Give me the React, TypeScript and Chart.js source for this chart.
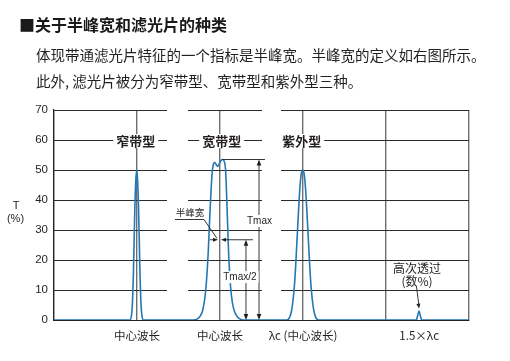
import React, { useEffect, useRef } from 'react';
import { Chart, registerables } from 'chart.js';

Chart.register(...registerables);

// ---- data (x in grid units: 1 unit = one vertical grid interval) ----
const Y_TICKS = [0, 10, 20, 30, 40, 50, 60, 70];
const X_GRID = [0, 1, 2, 3, 4, 5];

const NARROW_X = [0.9157, 0.9337, 0.9458, 0.9554, 0.9651, 0.9747, 0.9855, 0.9964, 1.0072, 1.0181, 1.0277, 1.0373, 1.047, 1.059, 1.0771];
const NARROW_T = [0, 1.5, 6, 14, 26, 38, 46.5, 50, 46.5, 38, 26, 14, 6, 1.5, 0];

const BROAD_X = [1.6747, 1.7229, 1.759, 1.7892, 1.8133, 1.8313, 1.847, 1.859, 1.8711, 1.8831, 1.894, 1.906, 1.9193, 1.9337, 1.9518, 1.9723, 1.994, 2.0145, 2.0337, 2.053, 2.0675, 2.0819, 2.094, 2.1072, 2.1277, 2.1482, 2.1747, 2.2108, 2.253, 2.3133];
const BROAD_T = [0, 0.3, 1.2, 3, 6.5, 11, 17, 23, 31, 38, 44, 49.3, 51.8, 52.6, 51.9, 51.2, 52.2, 53.3, 53.5, 52.7, 50, 40, 30, 20, 11, 6, 2.8, 1, 0.2, 0];

const UV_X = [2.8012, 2.8373, 2.8614, 2.8795, 2.8952, 2.9096, 2.9229, 2.9361, 2.9494, 2.9639, 2.9795, 2.9964, 3.0133, 3.0289, 3.0434, 3.0566, 3.0699, 3.0831, 3.0976, 3.1133, 3.1313, 3.1554, 3.1928];
const UV_T = [0, 0.8, 3, 6.5, 11, 17, 24, 31, 38, 44.5, 48.8, 50, 48.8, 44.5, 38, 31, 24, 17, 11, 6.5, 3, 0.8, 0];

const HARM_X = [4.3651, 4.3819, 4.3976, 4.4133, 4.4301];
const HARM_T = [0, 1.5, 3, 1.5, 0];

const TYPE_LABELS = ['窄带型', '宽带型', '紫外型'];
const X_LABELS = ['中心波长', '中心波长', 'λc (中心波长)', '1.5×λc'];

// ---- layout constants ----
const TYPE_POS = [0.985, 2.02, 2.985];
const X_LABEL_POS = [1, 2, 3, 4.4];
const GAPS = [[1.3614, 1.6145], [2.506, 2.735]];
const TMAX = 53.5;

const FONT_CJK = "'Noto Sans CJK SC', sans-serif";
const FONT_LAT = "'Liberation Sans', Arial, sans-serif";
const INK = '#231f20';
const BLUE = '#2477b4';

function head(ctx: CanvasRenderingContext2D, x: number, y: number, dx: number, dy: number, len = 6, w = 2.3) {
  ctx.beginPath();
  ctx.moveTo(x, y);
  ctx.lineTo(x - dx * len - dy * w, y - dy * len + dx * w);
  ctx.lineTo(x - dx * len + dy * w, y - dy * len - dx * w);
  ctx.closePath();
  ctx.fill();
}

function labelBg(ctx: CanvasRenderingContext2D, text: string, cx: number, cy: number, font: string, padX = 2, h = 12) {
  ctx.font = font;
  const w = ctx.measureText(text).width;
  ctx.fillStyle = '#fff';
  ctx.fillRect(cx - w / 2 - padX, cy - h / 2, w + padX * 2, h);
  ctx.fillStyle = INK;
  ctx.textAlign = 'center';
  ctx.textBaseline = 'middle';
  ctx.fillText(text, cx, cy);
}

const decor = {
  id: 'decor',
  beforeDatasetsDraw(chart: any) {
    const { ctx, chartArea: ca, scales } = chart;
    const x = scales.x, y = scales.y;
    ctx.save();
    ctx.fillStyle = '#fff';
    for (const [a, b] of GAPS) {
      const l = x.getPixelForValue(a), r = x.getPixelForValue(b);
      ctx.fillRect(l, ca.top - 2, r - l, ca.bottom - 0.6 - (ca.top - 2));
    }
    // type labels with white background
    const f = `bold 13px ${FONT_CJK}`;
    TYPE_LABELS.forEach((t, i) => {
      const cx = x.getPixelForValue(TYPE_POS[i]);
      const cy = y.getPixelForValue(60) + 1;
      ctx.font = f;
      const w = ctx.measureText(t).width;
      ctx.fillStyle = '#fff';
      ctx.fillRect(cx - w / 2 - 3, cy - 7, w + 6, 14);
      ctx.fillStyle = INK;
      ctx.textAlign = 'center';
      ctx.textBaseline = 'middle';
      ctx.fillText(t, cx, cy);
    });
    ctx.restore();
  },
  afterDatasetsDraw(chart: any) {
    const { ctx, chartArea: ca, scales } = chart;
    const x = scales.x, y = scales.y;
    const X = (v: number) => x.getPixelForValue(v);
    const Y = (v: number) => y.getPixelForValue(v);
    ctx.save();
    ctx.strokeStyle = INK;
    ctx.fillStyle = INK;
    ctx.lineWidth = 0.9;

    // Tmax
    const yT = Y(TMAX);
    ctx.beginPath();
    ctx.moveTo(X(2.03), yT); ctx.lineTo(X(2.542), yT);
    const xa = X(2.47);
    ctx.moveTo(xa, yT + 5); ctx.lineTo(xa, ca.bottom - 5);
    ctx.stroke();
    head(ctx, xa, yT, 0, -1);
    head(ctx, xa, ca.bottom, 0, 1);
    labelBg(ctx, 'Tmax', xa + 0.5, Y(33.0), `10px ${FONT_LAT}`);

    // Tmax/2
    const yH = Y(TMAX / 2);
    ctx.strokeStyle = INK; ctx.fillStyle = INK;
    ctx.beginPath();
    ctx.moveTo(X(1.88), yH); ctx.lineTo(X(1.976) - 4, yH);
    ctx.moveTo(X(2.012) + 4, yH); ctx.lineTo(X(2.398), yH);
    const xb = X(2.313);
    ctx.moveTo(xb, yH + 5); ctx.lineTo(xb, ca.bottom - 5);
    ctx.stroke();
    head(ctx, X(1.976), yH, 1, 0, 5, 2);
    head(ctx, X(2.012), yH, -1, 0, 5, 2);
    head(ctx, xb, yH, 0, -1);
    head(ctx, xb, ca.bottom, 0, 1);
    labelBg(ctx, 'Tmax/2', X(2.24), Y(14.3), `10px ${FONT_LAT}`);

    // 半峰宽 leader
    ctx.strokeStyle = INK; ctx.fillStyle = INK;
    ctx.beginPath();
    ctx.moveTo(X(1.458), Y(33.5));
    ctx.lineTo(X(1.807), Y(33.5));
    ctx.lineTo(X(1.964), Y(27.2));
    ctx.stroke();
    ctx.font = `9.5px ${FONT_CJK}`;
    ctx.textAlign = 'center';
    ctx.textBaseline = 'middle';
    ctx.fillText('半峰宽', X(1.639), Y(35.8));

    // 高次透过
    ctx.font = `12px ${FONT_CJK}`;
    ctx.fillText('高次透过', X(4.373), Y(17.3));
    ctx.fillText('(数%)', X(4.373), Y(13.0));
    ctx.beginPath();
    ctx.moveTo(X(4.367), Y(11.2));
    ctx.lineTo(X(4.396), Y(5.0));
    ctx.stroke();
    head(ctx, X(4.398), Y(3.8), 0.13, 0.99, 5, 2);

    // x labels
    ctx.font = `11.5px ${FONT_CJK}`;
    X_LABELS.forEach((t, i) => {
      ctx.fillText(t, X(X_LABEL_POS[i]), ca.bottom + 16);
    });

    // y title
    ctx.font = `11px ${FONT_LAT}`;
    ctx.fillText('T', 16, 206);
    ctx.fillText('(%)', 15.5, 219);

    // heading
    ctx.textAlign = 'left';
    ctx.fillStyle = '#1a1a1a';
    ctx.font = `bold 16px ${FONT_CJK}`;
    ctx.fillText('■关于半峰宽和滤光片的种类', 19, 25);
    ctx.fillStyle = INK;
    ctx.font = `14.5px ${FONT_CJK}`;
    ctx.fillText('体现带通滤光片特征的一个指标是半峰宽。半峰宽的定义如右图所示。', 36, 55);
    ctx.fillText('此外, 滤光片被分为窄带型、宽带型和紫外型三种。', 36, 81);
    ctx.restore();
  },
};

export default function App() {
  const ref = useRef<HTMLCanvasElement>(null);
  useEffect(() => {
    const pts: { x: number; y: number }[] = [{ x: 0, y: 0 }];
    const add = (xs: number[], ys: number[]) => xs.forEach((v, i) => pts.push({ x: v, y: ys[i] }));
    add(NARROW_X, NARROW_T);
    add(BROAD_X, BROAD_T);
    add(UV_X, UV_T);
    add(HARM_X, HARM_T);
    pts.push({ x: X_GRID[X_GRID.length - 1], y: 0 });

    const chart = new Chart(ref.current as HTMLCanvasElement, {
      type: 'line',
      data: {
        datasets: [
          {
            data: pts,
            borderColor: BLUE,
            borderWidth: 1.6,
            pointRadius: 0,
            fill: false,
            cubicInterpolationMode: 'monotone',
          },
        ],
      },
      options: {
        animation: false,
        responsive: false,
        devicePixelRatio: 1,
        layout: { padding: { left: 0, top: 110, right: 41, bottom: 41 } },
        plugins: { legend: { display: false }, tooltip: { enabled: false } },
        scales: {
          x: {
            type: 'linear',
            min: X_GRID[0],
            max: X_GRID[X_GRID.length - 1],
            afterBuildTicks: (s: any) => { s.ticks = X_GRID.map((v) => ({ value: v })); },
            ticks: { display: false },
            grid: { color: '#6f6f6f', lineWidth: 1.4, drawTicks: false },
            border: { display: true, color: '#222', width: 1 },
            afterFit: (s: any) => { s.height = 0; },
          },
          y: {
            min: Y_TICKS[0],
            max: Y_TICKS[Y_TICKS.length - 1],
            afterBuildTicks: (s: any) => { s.ticks = Y_TICKS.map((v) => ({ value: v })); },
            ticks: { color: INK, padding: 6, font: { family: FONT_LAT, size: 11.5 } },
            grid: { color: '#2b2b2b', lineWidth: 1, drawTicks: false },
            border: { display: true, color: '#222', width: 1.2 },
            afterFit: (s: any) => { s.width = 54; },
          },
        },
      },
      plugins: [decor],
    } as any);
    return () => chart.destroy();
  }, []);
  return (
    <div style={{ position: 'absolute', left: 0, top: 0, width: 510, height: 361, background: '#fff' }}>
      <canvas ref={ref} width={510} height={361} style={{ width: 510, height: 361, display: 'block' }} />
    </div>
  );
}
